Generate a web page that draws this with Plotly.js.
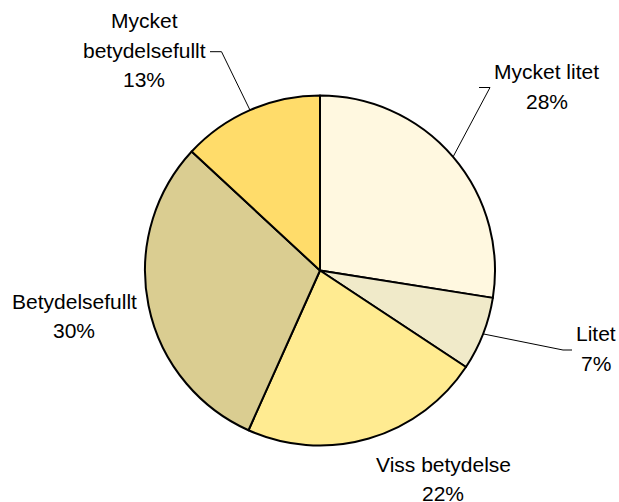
<!DOCTYPE html>
<html>
<head>
<meta charset="utf-8">
<script src="https://cdn.plot.ly/plotly-3.0.1.min.js"></script>
<style>html,body{margin:0;padding:0;background:#fff;}#chart{width:619px;height:502px;}</style>
</head>
<body>
<div id="chart"></div>
<script>
// Data
var categories = ["Mycket litet", "Litet", "Viss betydelse", "Betydelsefullt", "Mycket betydelsefullt"];
var values = [27.5, 6.8, 22.4, 30.2, 13.1];
var labelLines = [["Mycket litet"], ["Litet"], ["Viss betydelse"], ["Betydelsefullt"], ["Mycket", "betydelsefullt"]];
var colors = ["#FFF8E0", "#F0EAC9", "#FFEB91", "#DACD91", "#FFDC6A"];

// Layout geometry (pixels)
var W = 619, H = 502;
var cx = 320, cy = 270.5, R = 175;
var lineGap = 29.5;
// label block centres (x, y of first line) and leader line elbows
var labelPos = [[546.5, 72], [596, 333.7], [443, 464], [74, 301], [144, 20.8]];
var leader = [
  {elbow: [490, 87.5], end: [479, 87.5]},
  {elbow: [563, 350], end: [572, 350]},
  null,
  null,
  {elbow: [221.5, 51.7], end: [210, 51.7]}
];

function px(x) { return x / W; }
function py(y) { return 1 - y / H; }

var total = values.reduce(function(a, b) { return a + b; }, 0);
var annotations = [];
var shapes = [];
var cum = 0;
for (var i = 0; i < values.length; i++) {
  var pct = Math.round(values[i] / total * 100) + "%";
  var lines = labelLines[i].concat([pct]);
  for (var j = 0; j < lines.length; j++) {
    annotations.push({
      x: px(labelPos[i][0]), y: py(labelPos[i][1] + j * lineGap),
      xref: "paper", yref: "paper", xanchor: "center", yanchor: "middle",
      text: lines[j], showarrow: false,
      font: {family: "Liberation Sans, Arial, sans-serif", size: 21, color: "#000"}
    });
  }
  var mid = (cum + values[i] / 2) / total * 2 * Math.PI;
  cum += values[i];
  if (leader[i]) {
    var ex = cx + R * Math.sin(mid), ey = cy - R * Math.cos(mid);
    shapes.push({
      type: "path", xref: "paper", yref: "paper",
      path: "M " + px(ex) + " " + py(ey) + " L " + px(leader[i].elbow[0]) + " " + py(leader[i].elbow[1]) +
            " L " + px(leader[i].end[0]) + " " + py(leader[i].end[1]),
      line: {color: "#000", width: 1}
    });
  }
}

var trace = {
  type: "pie",
  labels: categories,
  values: values,
  sort: false,
  direction: "clockwise",
  rotation: 0,
  textinfo: "none",
  hoverinfo: "label+percent",
  marker: {colors: colors, line: {color: "#000", width: 2}},
  domain: {x: [px(cx - R), px(cx + R)], y: [py(cy + R), py(cy - R)]}
};

var layout = {
  width: W, height: H,
  margin: {l: 0, r: 0, t: 0, b: 0},
  showlegend: false,
  paper_bgcolor: "#fff",
  annotations: annotations,
  shapes: shapes
};

Plotly.newPlot("chart", [trace], layout, {displayModeBar: false, staticPlot: true});
</script>
</body>
</html>
